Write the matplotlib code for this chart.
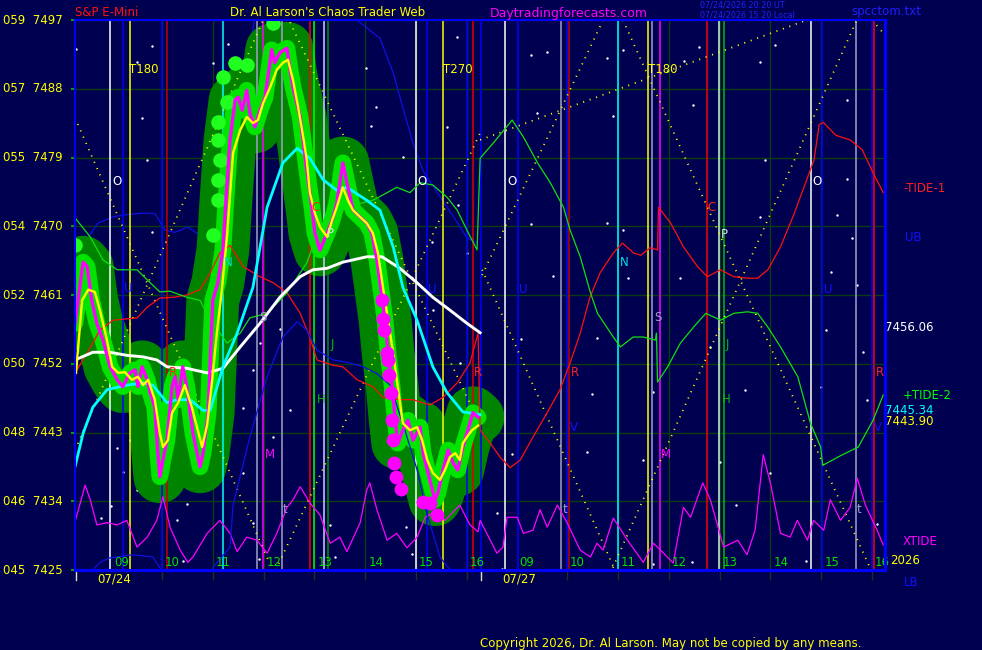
import numpy as np
import matplotlib
matplotlib.use('Agg')
import matplotlib.pyplot as plt

BG = '#000050'
SESSION_START = 8.29   # clock hour at the left edge of each trading day
DAY_LEN = 7.97         # width of one day on the axis (hours)

def pos(day, hrs):
    return np.asarray(hrs, float) - SESSION_START + day * DAY_LEN

# ---------------- axis labels ----------------
price_levels = [7425, 7434, 7443, 7452, 7461, 7470, 7479, 7488, 7497]
left_codes = ['045', '046', '048', '050', '052', '054', '055', '057', '059']
hour_labels = ['09', '10', '11', '12', '13', '14', '15', '16']
hour_values = [9, 10, 11, 12, 13, 14, 15, 16]
day_labels = ['07/24', '07/27']

# ---------------- day 1 price (magenta) ----------------
px_hr = [8.29, 8.45, 8.53, 8.62, 8.72, 8.84, 8.98, 9.12, 9.23, 9.37, 9.47, 9.53, 9.61, 9.71,
         9.77, 9.86, 9.92, 9.96, 10.02, 10.10, 10.20, 10.26, 10.32, 10.41, 10.49, 10.61, 10.75,
         10.81, 10.91, 11.00, 11.10, 11.20, 11.26, 11.34, 11.44, 11.50, 11.58, 11.67, 11.73,
         11.83, 11.93, 12.03, 12.16, 12.22, 12.32, 12.46, 12.52, 12.58, 12.72, 12.85, 12.95,
         13.01, 13.11, 13.25, 13.35, 13.44, 13.56, 13.66, 13.76, 13.90, 14.03, 14.13, 14.23,
         14.33, 14.39, 14.45, 14.53, 14.59, 14.64, 14.74, 14.84, 14.94, 15.08, 15.14, 15.27,
         15.37, 15.43, 15.53, 15.63, 15.73, 15.82, 15.92, 16.02, 16.12, 16.22]
px_val = [7457.3, 7465.3, 7464.7, 7460.3, 7457.3, 7455.1, 7451.6, 7449.9, 7449.0, 7450.8, 7451.2,
          7449.0, 7451.6, 7449.9, 7448.2, 7446.3, 7440.3, 7437.2, 7439.4, 7442.0, 7449.0, 7450.3,
          7447.3, 7451.6, 7449.0, 7442.9, 7438.5, 7440.3, 7445.6, 7460.3, 7462.6, 7466.9, 7473.4,
          7481.3, 7486.5, 7486.9, 7485.2, 7487.8, 7484.8, 7483.0, 7485.2, 7486.9, 7493.1, 7491.4,
          7492.7, 7493.3, 7490.5, 7488.2, 7484.3, 7477.4, 7472.5, 7469.1, 7466.9, 7469.1, 7470.8,
          7473.0, 7478.3, 7475.1, 7472.1, 7471.2, 7470.4, 7469.1, 7465.6, 7460.7, 7457.7, 7453.4,
          7449.0, 7444.6, 7441.6, 7443.3, 7444.6, 7442.0, 7443.7, 7440.3, 7436.8, 7434.2, 7435.1,
          7438.1, 7440.7, 7439.0, 7438.1, 7441.1, 7443.3, 7445.6, 7445.0]

# ---------------- day 1 smoothed price (yellow) ----------------
avg_hr = [8.31, 8.43, 8.55, 8.68, 8.78, 8.92, 9.02, 9.14, 9.27, 9.41, 9.53, 9.63, 9.73, 9.86,
          9.96, 10.02, 10.12, 10.20, 10.32, 10.45, 10.59, 10.69, 10.79, 10.89, 10.99, 11.08,
          11.18, 11.28, 11.40, 11.54, 11.67, 11.79, 11.89, 11.99, 12.13, 12.26, 12.38, 12.48,
          12.58, 12.68, 12.78, 12.85, 12.91, 13.01, 13.11, 13.25, 13.35, 13.44, 13.56, 13.66,
          13.76, 13.90, 14.03, 14.15, 14.25, 14.35, 14.45, 14.55, 14.64, 14.74, 14.88, 15.02,
          15.12, 15.22, 15.33, 15.47, 15.57, 15.67, 15.77, 15.86, 15.92, 16.00, 16.10, 16.22]
avg_val = [7450.8, 7460.3, 7461.7, 7461.4, 7459.0, 7455.1, 7451.6, 7450.8, 7450.9, 7449.9, 7450.3,
           7449.2, 7449.9, 7447.3, 7442.9, 7441.1, 7442.0, 7445.6, 7446.9, 7449.2, 7446.3, 7443.7,
           7441.1, 7444.0, 7449.9, 7456.0, 7461.7, 7468.6, 7479.6, 7482.6, 7484.3, 7483.5, 7483.9,
           7486.1, 7488.2, 7490.5, 7491.4, 7491.8, 7489.1, 7485.6, 7481.7, 7478.7, 7474.4, 7471.7,
           7469.9, 7468.6, 7470.8, 7472.5, 7475.1, 7473.4, 7472.1, 7471.2, 7470.4, 7469.1, 7466.5,
           7462.0, 7457.7, 7453.4, 7449.0, 7444.2, 7443.3, 7443.7, 7442.0, 7439.4, 7437.7, 7436.8,
           7438.1, 7439.8, 7440.3, 7439.4, 7441.6, 7442.4, 7443.3, 7443.9]

# big magenta dots and light green dots
mdot_hr = [14.33, 14.35, 14.37, 14.43, 14.45, 14.47, 14.51, 14.53, 14.55, 14.57, 14.61, 14.70,
           15.14, 15.27, 15.41]
mdot_val = [7460.3, 7457.9, 7456.4, 7453.4, 7452.5, 7450.5, 7448.2, 7444.6, 7442.0, 7439.0,
            7437.2, 7435.6, 7433.9, 7433.8, 7432.2]
gdot_hr = [8.29, 11.00, 11.10, 11.10, 11.14, 11.10, 11.10, 11.28, 11.20, 11.44, 11.67, 12.19]
gdot_val = [7467.5, 7468.9, 7483.6, 7481.3, 7478.7, 7476.1, 7473.4, 7486.3, 7489.5, 7491.4,
            7491.1, 7496.6]

# ---------------- white and cyan averages (day 1) ----------------
white_hr = [8.29, 8.64, 8.98, 9.31, 9.63, 9.90, 10.10, 10.49, 10.89, 11.20, 11.54, 11.93, 12.32,
            12.72, 12.97, 13.25, 13.56, 14.03, 14.33, 14.68, 15.02, 15.33, 15.67, 16.00, 16.26]
white_val = [7452.5, 7453.5, 7453.5, 7453.1, 7452.9, 7452.5, 7451.6, 7451.4, 7450.8, 7451.4,
             7454.2, 7457.3, 7460.7, 7463.4, 7464.3, 7464.5, 7465.3, 7466.0, 7466.0, 7464.5,
             7462.6, 7460.7, 7459.0, 7457.3, 7456.06]
cyan_hr = [8.29, 8.45, 8.64, 8.92, 9.31, 9.63, 9.82, 10.10, 10.30, 10.55, 10.81, 10.95, 11.20,
           11.48, 11.79, 12.07, 12.38, 12.66, 12.91, 13.17, 13.44, 13.64, 14.03, 14.29, 14.55,
           14.74, 15.02, 15.33, 15.61, 15.92, 16.26]
cyan_val = [7438.5, 7442.9, 7446.3, 7448.6, 7449.2, 7449.5, 7449.2, 7446.9, 7447.3, 7447.3,
            7445.9, 7445.9, 7451.6, 7456.0, 7462.0, 7472.5, 7478.3, 7480.2, 7478.9, 7476.1,
            7474.7, 7475.1, 7473.4, 7472.1, 7467.3, 7462.0, 7457.7, 7451.6, 7448.2, 7445.7, 7445.34]

# ---------------- +TIDE-2 (green) ----------------
tide2_hr1 = [8.29, 8.59, 8.84, 9.12, 9.51, 9.77, 9.96, 10.16, 10.49, 10.75, 10.95, 11.14, 11.28,
             11.54, 11.73, 12.07, 12.46, 12.85, 13.11, 13.37, 13.64, 13.90, 14.15, 14.43, 14.62,
             14.88, 15.08, 15.33, 15.61, 15.81, 16.00, 16.20]
tide2_val1 = [7471.1, 7468.6, 7465.6, 7464.3, 7464.3, 7462.6, 7461.4, 7461.5, 7460.7, 7460.3,
              7457.7, 7456.0, 7454.7, 7456.0, 7458.0, 7458.6, 7461.3, 7465.2, 7469.9, 7471.2,
              7472.5, 7473.0, 7473.4, 7474.4, 7475.1, 7474.4, 7475.7, 7475.4, 7473.8, 7472.1,
              7469.5, 7466.9]
tide2_hr2 = [8.29, 8.55, 8.92, 9.14, 9.42, 9.67, 9.93, 10.06, 10.26, 10.46, 10.60, 10.91, 11.05,
             11.30, 11.50, 11.74, 11.76, 11.78, 11.98, 12.23, 12.49, 12.73, 13.02, 13.28, 13.55,
             13.75, 13.95, 14.20, 14.54, 14.79, 14.99, 15.03, 15.39, 15.73, 16.02, 16.22]
tide2_val2 = [7478.9, 7480.9, 7483.9, 7481.7, 7478.3, 7475.7, 7472.5, 7469.5, 7466.0, 7461.3,
              7458.6, 7455.5, 7454.2, 7455.5, 7455.5, 7455.1, 7456.0, 7449.6, 7451.6, 7454.7,
              7456.8, 7458.6, 7457.7, 7458.6, 7458.8, 7458.6, 7456.8, 7454.2, 7450.3, 7444.2,
              7441.1, 7438.7, 7440.0, 7441.1, 7444.6, 7447.9]

# ---------------- -TIDE-1 (red) ----------------
tide1_hr1 = [8.29, 8.53, 8.78, 9.04, 9.51, 9.71, 9.96, 10.22, 10.49, 10.75, 10.95, 11.14, 11.34,
             11.60, 11.93, 12.19, 12.46, 12.72, 12.91, 13.05, 13.37, 13.56, 13.84, 14.15, 14.35,
             14.68, 14.94, 15.27, 15.53, 15.81, 16.06, 16.22]
tide1_val1 = [7450.8, 7453.4, 7456.4, 7457.7, 7458.0, 7459.4, 7460.6, 7460.7, 7461.0, 7461.7,
              7463.9, 7466.5, 7467.5, 7464.7, 7463.4, 7462.6, 7461.3, 7458.6, 7455.5, 7452.5,
              7451.8, 7451.6, 7449.9, 7449.0, 7447.6, 7447.3, 7447.3, 7446.6, 7447.6, 7449.5,
              7452.1, 7456.0]
tide1_hr2 = [8.29, 8.49, 8.68, 8.88, 9.08, 9.33, 9.61, 9.86, 10.06, 10.26, 10.45, 10.65, 10.91,
             11.09, 11.31, 11.45, 11.64, 11.78, 11.80, 12.04, 12.29, 12.57, 12.76, 13.02, 13.28,
             13.55, 13.75, 13.95, 14.20, 14.46, 14.66, 14.86, 14.96, 15.04, 15.29, 15.57, 15.81,
             16.02, 16.22]
tide1_val2 = [7443.3, 7441.6, 7439.8, 7438.4, 7439.4, 7442.4, 7445.6, 7448.6, 7452.1, 7456.0,
              7460.7, 7463.9, 7466.5, 7467.8, 7466.5, 7466.2, 7467.2, 7466.9, 7472.5, 7470.4,
              7467.3, 7464.7, 7463.4, 7464.3, 7463.4, 7463.2, 7463.2, 7464.3, 7467.3, 7471.5,
              7475.1, 7478.7, 7483.3, 7483.6, 7481.9, 7481.3, 7480.0, 7477.0, 7474.4]

# ---------------- UB / LB bands (blue, day 1) ----------------
ub_hr = [8.29, 8.55, 8.74, 9.02, 9.27, 9.61, 9.86, 10.06, 10.26, 10.51, 10.79, 10.91, 11.18,
         11.54, 11.89, 13.11, 13.84, 14.29, 14.55, 14.74, 14.94, 15.14, 15.41, 15.73, 16.00, 16.20]
ub_val = [7468.2, 7468.6, 7470.4, 7471.2, 7471.5, 7471.7, 7471.7, 7469.5, 7469.2, 7469.9, 7468.6,
          7468.2, 7474.7, 7487.8, 7499.0, 7499.0, 7497.0, 7494.6, 7490.1, 7485.5, 7480.9, 7477.2,
          7474.5, 7471.3, 7468.5, 7467.8]
lb_hr = [8.55, 8.78, 8.98, 9.43, 9.82, 9.96, 10.06, 10.95, 11.00, 11.34, 11.40, 11.73, 12.07,
         12.38, 12.66, 12.85, 13.05, 13.37, 13.64, 13.96, 14.23, 14.49, 14.78, 15.02, 15.22,
         15.47, 15.67, 15.77]
lb_val = [7424.3, 7426.0, 7426.6, 7427.0, 7426.7, 7425.3, 7423.7, 7423.7, 7425.3, 7428.0, 7433.5,
          7442.4, 7450.3, 7455.5, 7457.5, 7456.4, 7453.8, 7452.5, 7452.2, 7451.6, 7450.7, 7449.2,
          7443.3, 7438.1, 7432.2, 7426.7, 7425.0, 7423.7]

# ---------------- XTIDE (magenta, bottom) ----------------
xt_hr1 = [8.29, 8.49, 8.59, 8.72, 8.92, 9.12, 9.31, 9.51, 9.71, 9.90, 10.02, 10.16, 10.36, 10.51,
          10.61, 10.89, 11.14, 11.34, 11.48, 11.67, 11.87, 12.07, 12.26, 12.46, 12.58, 12.72,
          12.91, 13.11, 13.31, 13.50, 13.64, 13.90, 14.03, 14.09, 14.23, 14.43, 14.62, 14.82,
          15.02, 15.18, 15.33, 15.57, 15.86, 16.06, 16.22]
xt_val1 = [7431.3, 7436.1, 7434.2, 7430.9, 7431.2, 7430.9, 7431.5, 7428.0, 7429.3, 7431.5, 7434.6,
           7430.6, 7427.6, 7426.0, 7426.7, 7429.8, 7431.5, 7429.8, 7427.4, 7429.3, 7428.9, 7427.2,
           7429.8, 7433.2, 7434.2, 7435.9, 7433.8, 7432.2, 7428.5, 7429.3, 7427.4, 7431.2, 7435.5,
           7436.4, 7432.9, 7428.9, 7429.8, 7427.9, 7429.3, 7431.9, 7432.5, 7431.5, 7433.5, 7430.9,
           7430.0]
xt_hr2 = [8.29, 8.49, 8.62, 8.74, 8.82, 9.02, 9.14, 9.33, 9.47, 9.61, 9.81, 10.00, 10.26, 10.46,
          10.59, 10.71, 10.91, 11.19, 11.50, 11.70, 11.90, 12.09, 12.29, 12.43, 12.67, 12.82,
          13.08, 13.36, 13.54, 13.70, 13.86, 14.00, 14.20, 14.39, 14.53, 14.73, 14.85, 15.05,
          15.18, 15.38, 15.57, 15.71, 15.87, 16.10, 16.22]
xt_val2 = [7431.5, 7428.9, 7427.2, 7428.0, 7431.9, 7431.9, 7429.8, 7430.2, 7432.9, 7430.6, 7433.5,
           7431.2, 7427.6, 7426.7, 7428.5, 7427.6, 7431.8, 7428.9, 7426.0, 7428.5, 7427.2, 7425.9,
           7433.2, 7431.9, 7436.4, 7434.2, 7428.0, 7428.9, 7427.0, 7430.2, 7440.1, 7436.4, 7429.8,
           7429.3, 7431.5, 7428.9, 7431.5, 7430.2, 7434.2, 7431.5, 7433.2, 7437.0, 7433.5, 7430.2,
           7428.3]

# ---------------- dotted yellow geometry lines (axis position, price) ----------------
dotted_lines = [((0.00, 7484.2), (3.80, 7426.3)),
                ((0.00, 7440.7), (3.70, 7497.0)),
                ((4.23, 7496.7), (7.97, 7444.0)),
                ((3.95, 7425.0), (7.97, 7482.2)),
                ((7.97, 7481.3), (14.40, 7497.0)),
                ((8.01, 7463.6), (10.39, 7497.0)),
                ((8.01, 7464.3), (10.62, 7425.0)),
                ((10.78, 7497.0), (15.64, 7425.3)),
                ((10.58, 7425.3), (15.38, 7497.0)),
                ((15.68, 7497.0), (15.94, 7495.0))]

# ---------------- vertical event lines (axis position, colour) ----------------
vlines = [(0.69, '#ffffff'), (0.94, '#0000ff'), (1.08, '#ffff00'), (1.71, '#0000ff'),
          (1.81, '#c00000'), (2.91, '#00ffff'), (3.58, '#a0a0c8'), (3.70, '#ff00ff'),
          (4.07, '#a0a0c8'), (4.62, '#ff0000'), (4.70, '#00ff00'), (4.90, '#d0d0ff'),
          (4.98, '#009000'), (6.71, '#ffffff'), (6.93, '#0000ff'), (7.24, '#ffff00'),
          (7.71, '#0000ff'), (7.83, '#e00000'), (7.99, '#0000ff'),
          (8.46, '#ffffff'), (8.71, '#0000ff'), (9.56, '#a0a0c8'), (9.68, '#0000ff'),
          (9.72, '#c00000'), (10.68, '#00ffff'), (11.27, '#ffff00'), (11.35, '#a0a0c8'),
          (11.51, '#ff00ff'), (12.43, '#ff0000'), (12.67, '#d0ffd0'), (12.77, '#00c000'),
          (14.48, '#ffffff'), (14.70, '#0000ff'), (15.36, '#a0a0c8'), (15.68, '#0000ff'),
          (15.72, '#ff0000')]

# ---------------- small white star dots (axis position, price) ----------------
star_x = [1.51, 1.22, 2.71, 3.01, 1.32, 1.42, 1.51, 0.02, 5.72, 5.92, 7.52, 8.97, 9.29, 10.47,
          10.78, 11.98, 12.28, 13.48, 13.77, 15.19, 15.19, 14.99, 15.29, 14.87, 15.38, 14.77,
          15.50, 14.68, 15.58, 9.09, 10.58, 12.16, 13.57, 10.47, 8.97, 10.78, 10.88, 11.90, 9.40,
          13.48, 10.27, 8.77, 12.49, 10.17, 13.18, 11.37, 10.07, 11.17, 8.60, 12.69, 13.67, 5.82,
          6.45, 7.32, 7.53, 5.67, 7.02, 7.71, 7.04, 4.03, 3.50, 7.57, 3.31, 4.23, 3.90, 7.91,
          3.11, 3.64, 4.23, 1.61, 1.08, 0.83, 3.31, 1.22, 0.94, 0.71, 0.51, 2.01, 2.20, 2.12,
          3.50, 3.62, 5.02, 5.12, 6.51, 6.63, 8.30, 8.40, 13.00, 11.37, 12.14, 14.38, 15.78]
star_p = [7493.6, 7491.5, 7491.4, 7493.9, 7484.2, 7478.7, 7469.2, 7493.2, 7490.7, 7485.6, 7494.8,
          7492.4, 7492.8, 7492.0, 7493.1, 7491.6, 7493.5, 7491.5, 7493.7, 7486.5, 7476.2, 7471.5,
          7468.5, 7464.0, 7462.3, 7456.4, 7453.5, 7449.0, 7447.3, 7484.8, 7484.4, 7485.9, 7478.7,
          7470.4, 7470.3, 7469.5, 7463.2, 7463.2, 7463.5, 7471.2, 7455.4, 7455.2, 7454.2, 7448.0,
          7448.6, 7448.3, 7440.4, 7439.4, 7440.2, 7439.1, 7437.7, 7483.1, 7479.1, 7483.0, 7472.8,
          7469.2, 7467.9, 7466.5, 7459.0, 7456.6, 7451.2, 7452.1, 7446.2, 7445.9, 7442.4, 7440.3,
          7458.1, 7454.7, 7471.5, 7445.3, 7442.0, 7441.0, 7437.7, 7435.5, 7437.8, 7433.4, 7431.8,
          7431.5, 7433.6, 7426.2, 7431.2, 7426.4, 7430.9, 7426.7, 7430.6, 7427.1, 7432.5, 7425.1,
          7433.5, 7425.8, 7426.0, 7426.2, 7431.0]

# ---------------- in-chart letters (text, axis position, price, colour) ----------------
letters = [('O', 0.83, 7475.9, '#ffffff'), ('O', 6.83, 7475.9, '#ffffff'),
           ('O', 8.60, 7475.9, '#ffffff'), ('O', 14.60, 7475.9, '#ffffff'),
           ('U', 1.04, 7461.8, '#1010ff'), ('U', 7.02, 7461.7, '#1010ff'),
           ('U', 8.81, 7461.7, '#1010ff'), ('U', 14.81, 7461.7, '#1010ff'),
           ('N', 3.01, 7465.2, '#00e0e0'), ('N', 10.80, 7465.2, '#00e0e0'),
           ('S', 3.70, 7458.0, '#a0a0c8'), ('S', 11.47, 7458.0, '#a0a0c8'),
           ('C', 4.74, 7472.5, '#ff2020'), ('C', 12.53, 7472.4, '#ff2020'),
           ('P', 5.02, 7469.1, '#e0e0e0'), ('P', 12.77, 7468.9, '#e0e0e0'),
           ('J', 5.06, 7454.5, '#00c000'), ('J', 12.83, 7454.5, '#00c000'),
           ('H', 4.84, 7447.3, '#00c000'), ('H', 12.81, 7447.3, '#00c000'),
           ('M', 3.84, 7440.1, '#ff00ff'), ('M', 11.63, 7440.1, '#ff00ff'),
           ('R', 1.93, 7450.9, '#ff2020'), ('R', 7.93, 7450.8, '#ff2020'),
           ('R', 9.84, 7450.8, '#ff2020'), ('R', 15.84, 7450.8, '#ff2020'),
           ('V', 9.82, 7443.6, '#1010ff'), ('V', 15.80, 7443.6, '#1010ff'),
           ('t', 4.13, 7432.9, '#a0a0c8'), ('t', 9.64, 7432.9, '#a0a0c8'),
           ('t', 15.42, 7432.9, '#a0a0c8'),
           ('T180', 1.36, 7490.5, '#ffff00'), ('T270', 7.53, 7490.5, '#ffff00'),
           ('T180', 11.57, 7490.5, '#ffff00')]

# ---------------- right-side labels (text, price, x offset px, colour) ----------------
right_labels = [('-TIDE-1', 7475.0, 18, '#ff2020'), ('UB', 7468.5, 20, '#1010ff'),
                ('7456.06', 7456.7, 0, '#ffffff'), ('+TIDE-2', 7447.9, 18, '#00ff00'),
                ('7445.34', 7445.9, 0, '#00ffff'), ('7443.90', 7444.4, 0, '#ffff00'),
                ('XTIDE', 7428.7, 18, '#ff00ff'), ('2026', 7426.2, 5, '#ffff00'),
                ('LB', 7423.4, 19, '#1010ff')]

# =====================================================================
W, H = 982, 650
fig = plt.figure(figsize=(W / 100, H / 100), dpi=100, facecolor=BG)
L, B, R, T = 75, 80, 885, 20
ax = fig.add_axes([L / W, B / H, (R - L) / W, (H - B - T) / H], facecolor=BG)
ax.set_xlim(0, (R - L) / 50.83)
ax.set_ylim(7425, 7497)
FS = 8.5
plt.rcParams['font.family'] = ['DejaVu Sans']

grid_c = '#0b3b10'
for p in price_levels:
    ax.axhline(p, color=grid_c, lw=1.0, zorder=0.5)
hour_ticks = []
for d in (0, 1):
    for h in range(10, 17):
        hour_ticks.append(float(pos(d, h)))
for x in hour_ticks:
    ax.axvline(x, color=grid_c, lw=1.0, zorder=0.5)

ax.scatter(star_x, star_p, s=3, color='#ffffff', lw=0, zorder=0.7)

# upper band runs behind the price bars
ax.plot(pos(0, ub_hr), ub_val, color='#1010e0', lw=0.9, zorder=0.8)

# price band (bars)
t_px = pos(0, px_hr)
ax.plot(t_px, px_val, color='#008400', lw=38, solid_capstyle='round',
        solid_joinstyle='round', zorder=1)
ax.scatter(t_px, px_val, s=1150, color='#008400', zorder=1, lw=0)

for x, c in vlines:
    ax.axvline(x, color=c, lw=1.1, zorder=2)

for (x0, y0), (x1, y1) in dotted_lines:
    ax.plot([x0, x1], [y0, y1], color='#ffff00', lw=1.3, ls=(0, (0.6, 3.2)),
            dash_capstyle='butt', zorder=2.5)

ax.plot(t_px, px_val, color='#00e400', lw=12, solid_joinstyle='round',
        solid_capstyle='round', zorder=3)
ax.scatter(pos(0, gdot_hr), gdot_val, s=110, color='#20ff20', zorder=3, lw=0)

# thin forecast curves
ax.plot(np.concatenate([pos(0, xt_hr1), pos(1, xt_hr2)]), xt_val1 + xt_val2,
        color='#ff00ff', lw=0.9, zorder=4)
ax.plot(np.concatenate([pos(0, tide1_hr1), pos(1, tide1_hr2)]), tide1_val1 + tide1_val2,
        color='#ff1010', lw=0.9, zorder=4)
ax.plot(np.concatenate([pos(0, tide2_hr1), pos(1, tide2_hr2)]), tide2_val1 + tide2_val2,
        color='#10e010', lw=0.9, zorder=4)
ax.plot(pos(0, lb_hr), lb_val, color='#1010e0', lw=0.9, zorder=4)

ax.plot(pos(0, white_hr), white_val, color='#ffffff', lw=2.1, zorder=5)
ax.plot(pos(0, cyan_hr), cyan_val, color='#00ffff', lw=2.0, zorder=5)

ax.plot(t_px, px_val, color='#ff00ff', lw=2.4, zorder=6)
ax.plot(pos(0, avg_hr), avg_val, color='#ffff00', lw=1.7, zorder=6.5)
ax.scatter(pos(0, mdot_hr), mdot_val, s=100, color='#ff00ff', zorder=7, lw=0)

for txt, x, y, c in letters:
    ax.text(x, y, txt, color=c, fontsize=FS, ha='center', va='center', zorder=8)

# hour labels inside the bottom of the plot
xtr = ax.get_xaxis_transform()
for d in (0, 1):
    for lab, h in zip(hour_labels, hour_values):
        ax.text(float(pos(d, h)) + 0.06, 0.013, lab, transform=xtr, color='#00e000',
                fontsize=FS, ha='left', va='center', zorder=9)
    ax.text(float(pos(d, 8.29)) + 0.44, -0.017, day_labels[d], transform=xtr,
            color='#ffff00', fontsize=FS, ha='left', va='center', clip_on=False)
    ax.plot([pos(d, 8.29) + 0.02] * 2, [-0.004, -0.018], transform=xtr, color='#e0e0c0',
            lw=1.0, clip_on=False)

# ticks
ax.set_xticks(hour_ticks)
ax.set_xticklabels([])
ax.tick_params(axis='x', length=7, width=1, color='#203020', direction='out')
ax.set_yticks(price_levels)
ax.set_yticklabels([])
ax.tick_params(axis='y', length=3, width=1.2, color='#00c000', direction='out')

ytr = ax.get_yaxis_transform()
for code, p in zip(left_codes, price_levels):
    ax.text(-0.015, p, f'{code}  {p}', transform=ytr, color='#ffff00', fontsize=FS,
            ha='right', va='center', clip_on=False)
for txt, p, off, c in right_labels:
    ax.text(1.0 + off / 810, p, txt, transform=ytr, color=c, fontsize=FS,
            ha='left', va='center', clip_on=False)

for s in ax.spines.values():
    s.set_color('#0000ff')
    s.set_zorder(10)
ax.spines['left'].set_linewidth(1.5)
ax.spines['top'].set_linewidth(1.5)
ax.spines['right'].set_linewidth(2.2)
ax.spines['bottom'].set_linewidth(2.2)

# header / footer
def ftext(x, y, s, c, fs=FS, **kw):
    fig.text(x / W, 1 - y / H, s, color=c, fontsize=fs, va='center', ha='left', **kw)

ftext(75, 13, 'S&P E-Mini', '#ff1010')
ftext(230, 13, "Dr. Al Larson's Chaos Trader Web", '#ffff00')
ftext(490, 13, 'Daytradingforecasts.com', '#ff00ff', fs=9)
ftext(700, 5, '07/24/2026 20:20 UT', '#2020ff', fs=5.8)
ftext(700, 15, '07/24/2026 15:20 Local', '#2020ff', fs=5.8)
ftext(851, 12, 'spcctom.txt', '#2020ff')
ftext(480, 643, 'Copyright 2026, Dr. Al Larson. May not be copied by any means.', '#ffff00')

fig.savefig('out.png', dpi=100, facecolor=BG)
